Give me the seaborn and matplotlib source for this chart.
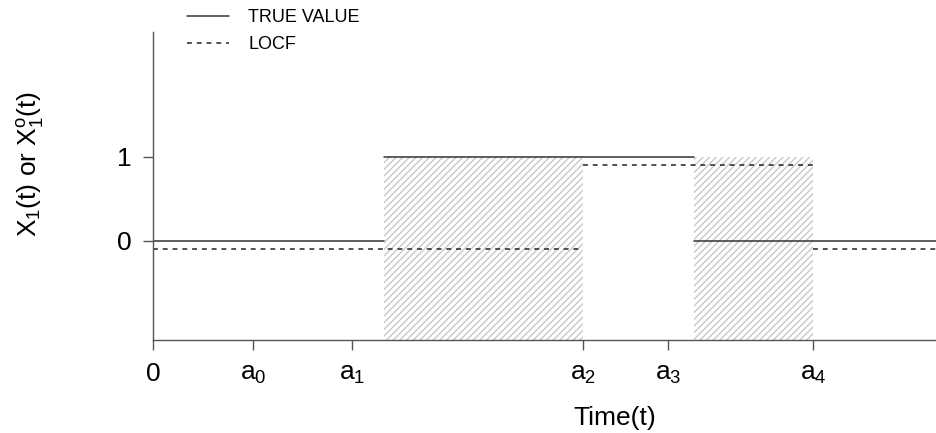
import matplotlib
matplotlib.use('Agg')
import matplotlib.pyplot as plt
import seaborn as sns
import pandas as pd

# dados (tempo em unidades arbitrarias)
true_start = [0.00, 2.31, 5.41]
true_end   = [2.31, 5.41, 7.84]
true_val   = [0, 1, 0]

locf_start = [0.00, 4.30, 6.60]
locf_end   = [4.30, 6.60, 7.84]
locf_val   = [-0.1, 0.9, -0.1]

shade_start = [2.31, 5.41]
shade_end   = [4.30, 6.60]
shade_top   = 1

xtick_pos    = [0, 1.00, 1.99, 4.30, 5.15, 6.60]
xtick_labels = ['0', '$a_0$', '$a_1$', '$a_2$', '$a_3$', '$a_4$']
ytick_pos    = [0, 1]

YMIN, YMAX = -1.179, 2.488
XMIN, XMAX = 0, 7.84


def segmentos(ini, fim, val, nome):
    linhas = []
    for i, (a, b, v) in enumerate(zip(ini, fim, val)):
        linhas.append({'t': a, 'x': v, 'seg': i, 'serie': nome})
        linhas.append({'t': b, 'x': v, 'seg': i, 'serie': nome})
    return pd.DataFrame(linhas)


df_true = segmentos(true_start, true_end, true_val, 'TRUE VALUE')
df_locf = segmentos(locf_start, locf_end, locf_val, 'LOCF')

sns.set_theme(style='ticks')
plt.rcParams['font.family'] = ['Liberation Sans', 'DejaVu Sans']
plt.rcParams['mathtext.default'] = 'regular'
plt.rcParams['text.color'] = 'black'
plt.rcParams['axes.labelcolor'] = 'black'
plt.rcParams['hatch.color'] = '#c8c8c8'
plt.rcParams['hatch.linewidth'] = 1.0

fig = plt.figure(figsize=(9.37, 4.33), dpi=100)
ax = fig.add_axes([153 / 937, 1 - 340 / 433, 1 - 153 / 937, (340 - 32) / 433])

# areas hachuradas
for a, b in zip(shade_start, shade_end):
    ax.fill_between([a, b], YMIN, shade_top, facecolor='none',
                    edgecolor='#c8c8c8', hatch='/////', linewidth=0)

sns.lineplot(data=df_true, x='t', y='x', units='seg', estimator=None,
             color='#333333', linewidth=1.1, ax=ax, label='TRUE VALUE')
sns.lineplot(data=df_locf, x='t', y='x', units='seg', estimator=None,
             color='#222222', linewidth=1.1, linestyle=(0, (3.2, 3.2)),
             ax=ax, label='LOCF')

ax.set_xlim(XMIN, XMAX)
ax.set_ylim(YMIN, YMAX)
ax.set_xticks(xtick_pos)
ax.set_xticklabels(xtick_labels)
ax.set_yticks(ytick_pos)
ax.tick_params(axis='both', length=7.5, width=1, color='#555555',
               labelsize=19, pad=8, labelcolor='black')

for s in ['top', 'right']:
    ax.spines[s].set_visible(False)
for s in ['left', 'bottom']:
    ax.spines[s].set_color('#555555')
    ax.spines[s].set_linewidth(1)

ax.set_xlabel('Time(t)', fontsize=19)
ax.xaxis.set_label_coords(0.589, -0.215)
ax.set_ylabel('X$_1$(t) or X$_1^o$(t)', fontsize=19)
ax.yaxis.set_label_coords(-0.137, 0.57)

# legenda: uma entrada por serie (o lineplot cria uma por segmento)
ax.get_legend().remove()
h, l = ax.get_legend_handles_labels()
uniq = {}
for hh, ll in zip(h, l):
    uniq.setdefault(ll, hh)
fig.legend(list(uniq.values()), list(uniq.keys()), loc='upper left',
           bbox_to_anchor=(187 / 937, 1 - 9 / 433),
           frameon=False, fontsize=13, borderpad=0, borderaxespad=0,
           handlelength=2.3, handletextpad=1.1, labelspacing=0.55)

plt.savefig('out.png', dpi=100)
plt.close()
